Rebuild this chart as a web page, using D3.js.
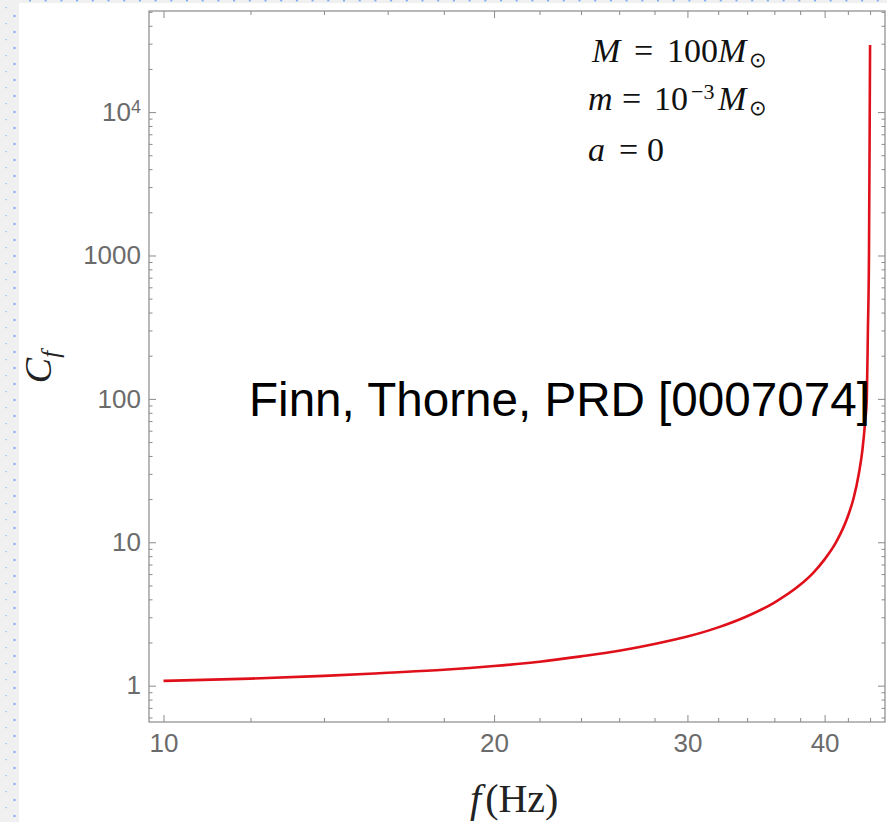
<!DOCTYPE html>
<html>
<head>
<meta charset="utf-8">
<script src="https://cdn.jsdelivr.net/npm/d3@7"></script>
<style>
  html, body { margin: 0; padding: 0; background: #ffffff; }
  svg { display: block; }
</style>
</head>
<body>
<svg id="chart" width="887" height="822"></svg>
<script>
// ---------------- data ----------------
const freqHz = [10, 12, 14, 16, 18, 20, 22, 24, 26, 28, 30, 32, 34, 36, 38, 39, 40, 41, 42, 42.5, 43, 43.3, 43.56, 43.7, 43.8, 43.9, 43.97, 44.0];
const cfValues = [1.08, 1.12, 1.17, 1.23, 1.29, 1.37, 1.47, 1.6, 1.75, 1.95, 2.2, 2.55, 3.05, 3.8, 5.05, 6.05, 7.6, 10.1, 15.2, 20.2, 30.8, 44, 71, 100, 300, 1000, 10000, 29400];

const xMajorTicks = [10, 20, 30, 40];
const xTickLabels = ["10", "20", "30", "40"];
const xMinorTicks = [12, 14, 16, 18, 22, 24, 26, 28, 32, 34, 36, 38, 42, 44];
const yMajorTicks = [1, 10, 100, 1000, 10000];
const yTickLabels = ["1", "10", "100", "1000", "10^4"];

const xDomain = [9.7, 45.4];
const yDomain = [0.558, 50700];

const annotationRows = [
  [{t: "M", i: true}, {t: "="}, {t: "100"}, {t: "M", i: true}, {t: "\u2299", sub: true}],
  [{t: "m", i: true}, {t: "="}, {t: "10"}, {t: "\u22123", sup: true}, {t: "M", i: true}, {t: "\u2299", sub: true}],
  [{t: "a", i: true}, {t: "="}, {t: "0"}]
];
const watermark = "Finn, Thorne, PRD [0007074]";

// ---------------- layout ----------------
const W = 887, H = 822;
const plot = {left: 149, top: 11, right: 885, bottom: 722};
const svg = d3.select("#chart");

// page decorations (editor background strip)
svg.append("rect").attr("x", 0).attr("y", 0).attr("width", W).attr("height", 3).attr("fill", "#f0f0f0");
svg.append("rect").attr("x", 0).attr("y", 0).attr("width", 19).attr("height", H).attr("fill", "#f0f0f0");
const deco = svg.append("g");
for (let k = 0; k < 52; k++) {
  deco.append("rect").attr("x", 5.5).attr("y", 7 + 16 * k).attr("width", 1.2).attr("height", 1.2).attr("fill", "#8db8ee");
  deco.append("rect").attr("x", 13.5).attr("y", 15 + 16 * k).attr("width", 2).attr("height", 2).attr("fill", "#7aaaf0");
}
for (let k = 0; k < 57; k++) {
  deco.append("rect").attr("x", 29 + 15.7 * k).attr("y", 0).attr("width", 2).attr("height", 1.4).attr("fill", "#7aaaf0");
}

const x = d3.scaleLog().domain(xDomain).range([plot.left, plot.right]);
const y = d3.scaleLog().domain(yDomain).range([plot.bottom, plot.top]);

const axisColor = "#8a8a8a";
const labelColor = "#6b6b6b";
const tickFont = "Liberation Sans, Arial, Helvetica, sans-serif";

function styleAxis(g) {
  g.select(".domain").remove();
  g.selectAll(".tick line").attr("stroke", axisColor).attr("stroke-width", 1);
  g.selectAll(".tick text").attr("fill", labelColor).style("font-family", tickFont).style("font-size", "26px");
}

const yMinor = y.ticks().filter(v => Math.abs(Math.log10(v) - Math.round(Math.log10(v))) > 1e-6);

// bottom
svg.append("g").attr("transform", `translate(0,${plot.bottom})`)
  .call(d3.axisBottom(x).tickValues(xMajorTicks).tickSize(-7).tickPadding(12)
    .tickFormat((d, i) => xTickLabels[i])).call(styleAxis);
svg.append("g").attr("transform", `translate(0,${plot.bottom})`)
  .call(d3.axisBottom(x).tickValues(xMinorTicks).tickSize(-4).tickFormat("")).call(styleAxis);
// top
svg.append("g").attr("transform", `translate(0,${plot.top})`)
  .call(d3.axisTop(x).tickValues(xMajorTicks).tickSize(-7).tickFormat("")).call(styleAxis);
svg.append("g").attr("transform", `translate(0,${plot.top})`)
  .call(d3.axisTop(x).tickValues(xMinorTicks).tickSize(-4).tickFormat("")).call(styleAxis);
// left
const leftAxis = svg.append("g").attr("transform", `translate(${plot.left},0)`)
  .call(d3.axisLeft(y).tickValues(yMajorTicks).tickSize(-7).tickPadding(8)
    .tickFormat((d, i) => yTickLabels[i])).call(styleAxis);
leftAxis.selectAll(".tick text").each(function(d, i) {
  const lab = yTickLabels[i];
  if (lab.includes("^")) {
    const [base, exp] = lab.split("^");
    const t = d3.select(this).text(null);
    t.append("tspan").text(base);
    t.append("tspan").attr("dy", "-0.45em").style("font-size", "18px").text(exp);
  }
});
svg.append("g").attr("transform", `translate(${plot.left},0)`)
  .call(d3.axisLeft(y).tickValues(yMinor).tickSize(-3.5).tickFormat("")).call(styleAxis);
// right
svg.append("g").attr("transform", `translate(${plot.right},0)`)
  .call(d3.axisRight(y).tickValues(yMajorTicks).tickSize(-7).tickFormat("")).call(styleAxis);
svg.append("g").attr("transform", `translate(${plot.right},0)`)
  .call(d3.axisRight(y).tickValues(yMinor).tickSize(-3.5).tickFormat("")).call(styleAxis);

// frame
svg.append("rect").attr("x", plot.left).attr("y", plot.top)
  .attr("width", plot.right - plot.left).attr("height", plot.bottom - plot.top)
  .attr("fill", "none").attr("stroke", axisColor).attr("stroke-width", 1.2);

// curve
const pts = freqHz.map((f, i) => ({f, c: cfValues[i]}));
svg.append("path").datum(pts)
  .attr("fill", "none").attr("stroke", "#e0101a").attr("stroke-width", 2.6)
  .attr("stroke-linejoin", "round")
  .attr("d", d3.line().x(d => x(d.f)).y(d => y(d.c)).curve(d3.curveMonotoneX));

// axis titles
const serif = "Liberation Serif, Times New Roman, serif";
const xt = svg.append("text").attr("x", 470).attr("y", 812)
  .style("font-family", serif).style("font-size", "40px").attr("fill", "#222");
xt.append("tspan").style("font-style", "italic").text("f");
xt.append("tspan").attr("dx", 4).text("(Hz)");

const yt = svg.append("text").attr("transform", "translate(51,367) rotate(-90)").attr("text-anchor", "middle")
  .style("font-family", serif).style("font-size", "38px").attr("fill", "#222");
yt.append("tspan").style("font-style", "italic").text("C");
yt.append("tspan").style("font-style", "italic").style("font-size", "25px").attr("dy", "0.3em").text("f");

// annotation block (layout positions per piece)
const annBaseline = [62, 110, 161];
const annPieceX = [
  [592, 634, 667, 718, 749],
  [588, 622, 654, 691, 718, 749],
  [588, 619, 647]
];
annotationRows.forEach((row, r) => {
  const t = svg.append("text")
    .style("font-family", serif).style("font-size", "34px").attr("fill", "#111");
  row.forEach((p, j) => {
    const s = t.append("tspan").attr("x", annPieceX[r][j]).attr("y", annBaseline[r]).text(p.t);
    if (p.i) s.style("font-style", "italic");
    if (p.sup) s.style("font-size", "22px").attr("y", annBaseline[r] - 11);
    if (p.sub) s.style("font-size", "21px").attr("y", annBaseline[r] + 5)
      .style("font-family", "DejaVu Sans, sans-serif");
  });
});

// overlay text
svg.append("text").attr("x", 249).attr("y", 416)
  .style("font-family", "Liberation Sans, Arial, Helvetica, sans-serif").style("font-size", "47.6px")
  .attr("fill", "#000").text(watermark);
</script>
</body>
</html>
